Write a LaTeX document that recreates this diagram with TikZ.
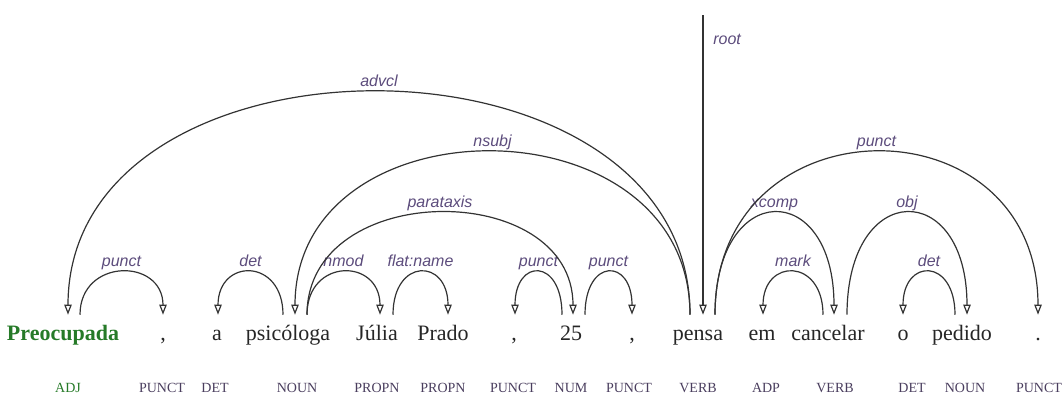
\documentclass[tikz,border=0pt]{standalone}
\usepackage{fontspec}
\setmainfont{Liberation Serif}
\newfontfamily\lblfont{Liberation Sans}
\usetikzlibrary{arrows.meta,calc}
\definecolor{lblcol}{RGB}{92,76,124}
\definecolor{tagcol}{RGB}{74,62,94}
\definecolor{adjgreen}{RGB}{38,122,40}

\begin{document}
\begin{tikzpicture}[x=0.75pt,y=-0.75pt,
  word/.style={anchor=base,font=\fontsize{16.5}{18}\selectfont,text=black!85,text height=12pt,text depth=4pt,inner xsep=0pt,inner ysep=6.75pt},
  tag/.style={anchor=base,font=\fontsize{10.5}{12}\selectfont,text=tagcol,inner sep=0pt},
  dep/.style={draw=black!80,line width=0.9pt,-{Triangle[open,width=5.5pt,length=7.5pt]}},
  lbl/.style={anchor=base,font=\lblfont\itshape\fontsize{12}{14}\selectfont,text=lblcol,inner sep=0pt}]
\useasboundingbox (0,0) rectangle (1063,394);
\node[word,text=adjgreen,font=\bfseries\fontsize{16.5}{18}\selectfont] (w1) at (63,340) {Preocupada};
\node[word] (w2) at (163,340) {,};
\node[word] (w3) at (217,340) {a};
\node[word] (w4) at (288,340) {psicóloga};
\node[word] (w5) at (377,340) {Júlia};
\node[word] (w6) at (443,340) {Prado};
\node[word] (w7) at (514,340) {,};
\node[word] (w8) at (571,340) {25};
\node[word] (w9) at (632,340) {,};
\node[word] (w10) at (698,340) {pensa};
\node[word] (w11) at (762,340) {em};
\node[word] (w12) at (828,340) {cancelar};
\node[word] (w13) at (903,340) {o};
\node[word] (w14) at (962,340) {pedido};
\node[word] (w15) at (1038,340) {.};
\node[tag,text=adjgreen] (t1) at (68,392) {ADJ};
\node[tag] (t2) at (162,392) {PUNCT};
\node[tag] (t3) at (215,392) {DET};
\node[tag] (t4) at (297,392) {NOUN};
\node[tag] (t5) at (377,392) {PROPN};
\node[tag] (t6) at (443,392) {PROPN};
\node[tag] (t7) at (513,392) {PUNCT};
\node[tag] (t8) at (571,392) {NUM};
\node[tag] (t9) at (629,392) {PUNCT};
\node[tag] (t10) at (698,392) {VERB};
\node[tag] (t11) at (766,392) {ADP};
\node[tag] (t12) at (835,392) {VERB};
\node[tag] (t13) at (912,392) {DET};
\node[tag] (t14) at (965,392) {NOUN};
\node[tag] (t15) at (1039,392) {PUNCT};
\coordinate (top) at (703,15);
\draw[dep] ($(w1.north)+(17,0)$) .. controls +(0,-57) and +(0,-57) .. (w2.north) node[lbl,pos=0.5,yshift=4pt] (e1) {punct};
\draw[dep] ($(w4.north)+(-5,0)$) .. controls +(0,-57) and +(0,-57) .. ($(w3.north)+(1,0)$) node[lbl,pos=0.5,yshift=4pt] (e2) {det};
\draw[dep] ($(w4.north)+(19,0)$) .. controls +(0,-57) and +(0,-57) .. ($(w5.north)+(3,0)$) node[lbl,pos=0.5,yshift=4pt] (e3) {nmod};
\draw[dep] ($(w5.north)+(16,0)$) .. controls +(0,-57) and +(0,-57) .. ($(w6.north)+(5,0)$) node[lbl,pos=0.5,yshift=4pt] (e4) {flat:name};
\draw[dep] ($(w8.north)+(-9,0)$) .. controls +(0,-57) and +(0,-57) .. ($(w7.north)+(1,0)$) node[lbl,pos=0.5,yshift=4pt] (e5) {punct};
\draw[dep] ($(w8.north)+(14,0)$) .. controls +(0,-57) and +(0,-57) .. (w9.north) node[lbl,pos=0.5,yshift=4pt] (e6) {punct};
\draw[dep] ($(w4.north)+(19,0)$) .. controls +(0,-136) and +(0,-136) .. ($(w8.north)+(2,0)$) node[lbl,pos=0.5,yshift=4pt] (e7) {parataxis};
\draw[dep] ($(w10.north)+(-8,0)$) .. controls +(0,-217) and +(0,-217) .. ($(w4.north)+(7,0)$) node[lbl,pos=0.5,yshift=4pt] (e8) {nsubj};
\draw[dep] ($(w10.north)+(-8,0)$) .. controls +(0,-297) and +(0,-297) .. ($(w1.north)+(5,0)$) node[lbl,pos=0.5,yshift=4pt] (e9) {advcl};
\draw[dep] (top) -- ($(w10.north)+(5,0)$);
\node[lbl,anchor=base west] (e10) at (713,44) {root};
\draw[dep] ($(w10.north)+(17,0)$) .. controls +(0,-136) and +(0,-136) .. ($(w12.north)+(6,0)$) node[lbl,pos=0.5,yshift=4pt] (e11) {xcomp};
\draw[dep] ($(w10.north)+(17,0)$) .. controls +(0,-217) and +(0,-217) .. (w15.north) node[lbl,pos=0.5,yshift=4pt] (e12) {punct};
\draw[dep] ($(w12.north)+(-5,0)$) .. controls +(0,-57) and +(0,-57) .. ($(w11.north)+(1,0)$) node[lbl,pos=0.5,yshift=4pt] (e13) {mark};
\draw[dep] ($(w12.north)+(19,0)$) .. controls +(0,-136) and +(0,-136) .. ($(w14.north)+(5,0)$) node[lbl,pos=0.5,yshift=4pt] (e14) {obj};
\draw[dep] ($(w14.north)+(-7,0)$) .. controls +(0,-57) and +(0,-57) .. (w13.north) node[lbl,pos=0.5,yshift=4pt] (e15) {det};
\end{tikzpicture}
\end{document}
